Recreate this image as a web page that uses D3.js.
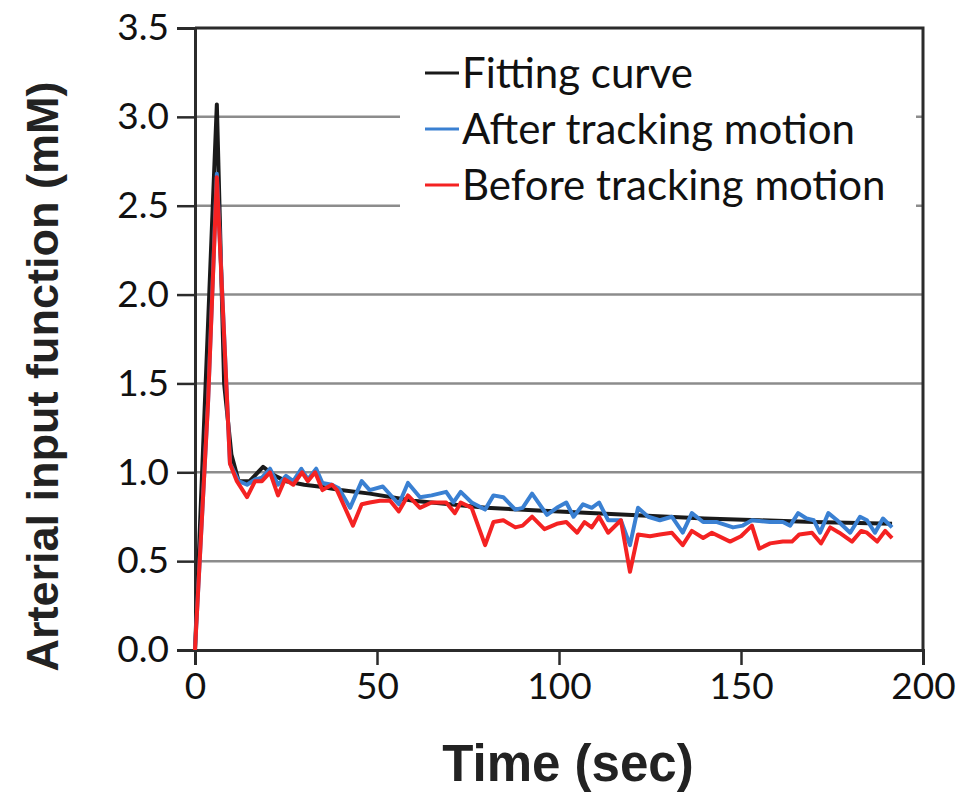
<!DOCTYPE html>
<html>
<head>
<meta charset="utf-8">
<script src="https://cdn.jsdelivr.net/npm/d3@7"></script>
<style>
  body { margin: 0; background: #fff; }
  svg { display: block; }
</style>
</head>
<body>
<svg width="971" height="794"></svg>
<script>
// [time (sec), concentration (mM)]
const fittingCurve = [
    [0,0],[6,3.07],[8,1.5],[10,1.1],[12,0.95],[15,0.95],[18.7,1.03],[22,0.98],
    [25,0.95],[30,0.93],[34,0.92],[40,0.9],[48,0.88],[60,0.84],[80,0.8],
    [100,0.78],[120,0.76],[140,0.74],[155,0.73],[170,0.72],[191.5,0.71]
];

const afterTracking = [
    [0,0],[3.6,1.4],[6,2.68],[9.6,1.05],[12,0.95],[14.3,0.93],[16.5,0.96],[18.4,0.97],
    [20.6,1.02],[22.8,0.93],[25,0.98],[27,0.95],[29.2,1.02],[31,0.96],[33.3,1.02],[35,0.94],
    [37.6,0.93],[39.5,0.91],[42.6,0.80],[45.8,0.95],[48,0.90],[51.6,0.92],[56,0.82],[58.5,0.94],
    [61.8,0.86],[65,0.87],[69,0.89],[71,0.83],[73,0.89],[76,0.83],[79.7,0.79],[82,0.87],
    [84.7,0.86],[88,0.79],[90,0.80],[92.6,0.88],[96.7,0.76],[99.4,0.80],[102,0.83],[104,0.75],
    [106.6,0.82],[109,0.80],[111,0.83],[113.5,0.73],[117,0.73],[119.5,0.59],[121.7,0.80],[124.5,0.75],
    [127.7,0.73],[131,0.75],[134,0.66],[136.5,0.77],[139.6,0.72],[143.4,0.72],[147.8,0.69],[150.5,0.70],
    [153,0.73],[158,0.72],[161.5,0.72],[163.5,0.70],[165.7,0.77],[168,0.74],[170,0.73],[171.7,0.66],
    [174,0.77],[176.4,0.73],[180,0.66],[182.7,0.75],[184.6,0.73],[186.8,0.66],[189,0.74],[191.5,0.69]
];

const beforeTracking = [
    [0,0],[3.6,1.4],[6,2.66],[9.6,1.05],[11.5,0.95],[14.3,0.86],[16.5,0.95],[18.4,0.95],
    [20.6,1.0],[22.8,0.87],[24.7,0.96],[27,0.93],[29.4,1.0],[31,0.95],[33,1.0],[35,0.9],
    [37.6,0.93],[39,0.9],[43.4,0.70],[45.8,0.82],[48,0.83],[50.8,0.84],[53.6,0.84],[56,0.78],
    [58.5,0.87],[61.8,0.8],[65,0.83],[69,0.83],[71.4,0.77],[73,0.83],[76,0.8],[79.7,0.59],
    [82,0.72],[84.7,0.73],[88,0.69],[90,0.70],[92.6,0.75],[96,0.68],[99.4,0.71],[102,0.72],
    [105,0.66],[107,0.72],[109,0.69],[111,0.75],[113.5,0.66],[117,0.73],[119.5,0.44],[121.7,0.65],
    [125,0.64],[127.7,0.65],[131,0.66],[134,0.59],[136.5,0.67],[139.6,0.63],[142,0.66],[147,0.61],
    [150,0.64],[153,0.70],[155,0.57],[158,0.60],[161.5,0.61],[164,0.61],[166,0.65],[169.5,0.66],
    [172,0.60],[174.5,0.69],[177,0.66],[180.5,0.61],[183,0.67],[184.6,0.66],[187.4,0.61],[189.6,0.67],
    [191.5,0.63]
];

const xTicks = [0, 50, 100, 150, 200];
const yTicks = [0, 0.5, 1.0, 1.5, 2.0, 2.5, 3.0, 3.5];

const series = [
    {name: "Fitting curve", values: fittingCurve, color: "#1a1a1a"},
    {name: "After tracking motion", values: afterTracking, color: "#3a80d2"},
    {name: "Before tracking motion", values: beforeTracking, color: "#f42222"}
];

const svg = d3.select("svg"),
    margin = {top: 28, right: 48, bottom: 144, left: 195},
    width = +svg.attr("width") - margin.left - margin.right,
    height = +svg.attr("height") - margin.top - margin.bottom;

const g = svg.append("g")
    .attr("transform", `translate(${margin.left},${margin.top})`);

const x = d3.scaleLinear().domain([0, 200]).range([0, width]);
const y = d3.scaleLinear().domain([0, 3.5]).range([height, 0]);

const tickFont = "Lato, 'Open Sans', sans-serif";

// gridlines
g.append("g")
    .selectAll("line")
    .data(yTicks.filter(d => d > 0 && d < 3.5))
    .join("line")
    .attr("x1", 0).attr("x2", width)
    .attr("y1", d => y(d)).attr("y2", d => y(d))
    .attr("stroke", "#8c8c8c")
    .attr("stroke-width", 2.5);

// frame top + right
g.append("path")
    .attr("d", `M0,${y(3.5)}H${width}V${height}`)
    .attr("fill", "none")
    .attr("stroke", "#2b2b2b")
    .attr("stroke-width", 3);

// y axis
g.append("g")
    .call(d3.axisLeft(y).tickValues(yTicks).tickFormat(d3.format(".1f")).tickSize(18).tickPadding(8))
    .call(a => a.select(".domain").attr("stroke", "#2b2b2b").attr("stroke-width", 3))
    .call(a => a.selectAll(".tick line").attr("stroke", "#2b2b2b").attr("stroke-width", 2.5))
    .call(a => a.selectAll("text").attr("font-family", tickFont).attr("font-size", 37).attr("fill", "#111"));

// x axis
g.append("g")
    .attr("transform", `translate(0,${height})`)
    .call(d3.axisBottom(x).tickValues(xTicks).tickSize(15).tickPadding(8))
    .call(a => a.select(".domain").attr("stroke", "#2b2b2b").attr("stroke-width", 3))
    .call(a => a.selectAll(".tick line").attr("stroke", "#2b2b2b").attr("stroke-width", 2.5))
    .call(a => a.selectAll("text").attr("font-family", tickFont).attr("font-size", 37).attr("fill", "#111"));

// legend background
g.append("rect")
    .attr("x", 205).attr("y", 12)
    .attr("width", 516).attr("height", 172)
    .attr("fill", "#fff");

const line = d3.line()
    .x(d => x(d[0]))
    .y(d => y(d[1]));

g.selectAll(".series")
    .data(series)
    .join("path")
    .attr("class", "series")
    .attr("d", d => line(d.values))
    .attr("fill", "none")
    .attr("stroke", d => d.color)
    .attr("stroke-width", 4)
    .attr("stroke-linejoin", "round");

// legend
const legend = g.append("g")
    .attr("transform", "translate(230,45)");

const item = legend.selectAll("g")
    .data(series)
    .join("g")
    .attr("transform", (d, i) => `translate(0,${i * 56})`);

item.append("line")
    .attr("x1", 0).attr("x2", 34)
    .attr("stroke", d => d.color)
    .attr("stroke-width", 3);

item.append("text")
    .attr("x", 37)
    .attr("dy", "0.36em")
    .attr("font-family", tickFont)
    .attr("font-size", 42)
    .attr("fill", "#111")
    .text(d => d.name);

// axis titles
svg.append("text")
    .attr("x", 568)
    .attr("y", 781)
    .attr("text-anchor", "middle")
    .attr("font-family", "'Liberation Sans', Arial, sans-serif")
    .attr("font-weight", "bold")
    .attr("font-size", 51)
    .attr("fill", "#222")
    .text("Time (sec)");

svg.append("text")
    .attr("transform", `translate(58,${(28 + 665) / 2 + 30}) rotate(-90)`)
    .attr("text-anchor", "middle")
    .attr("font-family", "'Liberation Sans', Arial, sans-serif")
    .attr("font-weight", "bold")
    .attr("font-size", 45)
    .attr("fill", "#222")
    .text("Arterial input function (mM)");
</script>
</body>
</html>
